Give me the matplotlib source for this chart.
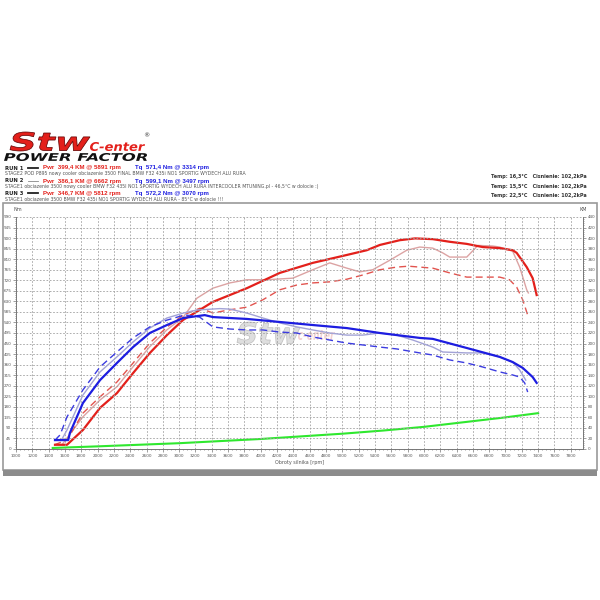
import matplotlib
matplotlib.use("Agg")
import matplotlib.pyplot as plt
import numpy as np
from matplotlib.textpath import TextPath
from matplotlib.patches import PathPatch
from matplotlib.font_manager import FontProperties
from matplotlib.transforms import Affine2D

# Run 1 (thick) - moc [KM] i moment [Nm]
r1_pwr_rpm = [1478, 1625, 1820, 2030, 2237, 2435, 2640, 2850, 3050, 3254, 3413, 3830, 4234, 4638, 5055,
              5300, 5460, 5704, 5891, 6108, 6316, 6525, 6720, 6929, 7088, 7137, 7260, 7333, 7382]
r1_pwr = [8, 8, 36, 78, 106, 144, 182, 216, 245, 264, 279, 305, 334, 353, 368,
          377, 387, 396, 399.4, 398, 393, 389, 383, 381, 377, 372, 345, 324, 292]
r1_tq_rpm = [1478, 1640, 1660, 1820, 2030, 2237, 2435, 2640, 2850, 3050, 3314, 3413, 3830, 4234, 4638,
             5055, 5460, 5949, 6108, 6525, 6929, 7088, 7211, 7333, 7382]
r1_tq = [38, 38, 68, 196, 294, 367, 435, 495, 529, 559, 571.4, 563, 555, 542, 529,
         516, 495, 474, 470, 431, 393, 371, 346, 307, 282]

# Run 2 (thin)
r2_pwr_rpm = [1563, 1820, 2030, 2237, 2435, 2640, 2850, 3050, 3217, 3413, 3621, 3830, 4075, 4393, 4638,
              4846, 5055, 5214, 5373, 5582, 5790, 5949, 6108, 6230, 6316, 6525, 6662, 6843, 6929,
              7088, 7174, 7260, 7280]
r2_pwr = [8, 61, 93, 118, 156, 194, 226, 250, 286, 305, 315, 321, 321, 324, 340,
          353, 343, 336, 340, 358, 377, 383, 381, 372, 364, 364, 386.1, 385, 383,
          375, 345, 302, 296]
r2_tq_rpm = [1560, 1625, 1820, 2030, 2237, 2435, 2640, 2850, 3050, 3217, 3497, 3621, 3830, 4026, 4234,
             4442, 4638, 4846, 5055, 5250, 5460, 5667, 5863, 6108, 6230, 6525, 6720, 6929, 7088,
             7174, 7248]
r2_tq = [40, 81, 230, 329, 393, 457, 516, 559, 580, 593, 599.1, 597, 580, 559, 538,
         521, 508, 495, 486, 486, 495, 486, 465, 435, 414, 410, 410, 393, 371,
         337, 294]

# Run 3 (dashed)
r3_pwr_rpm = [1470, 1625, 1820, 2030, 2237, 2435, 2640, 2850, 3050, 3254, 3413, 3621, 3830, 4026, 4234,
              4442, 4638, 4846, 5055, 5250, 5460, 5667, 5812, 6108, 6316, 6525, 6720, 6929, 7050,
              7137, 7211, 7272]
r3_pwr = [8, 17, 68, 99, 127, 163, 201, 231, 254, 267, 258, 264, 269, 283, 302,
          311, 315, 317, 322, 330, 340, 345, 346.7, 343, 334, 326, 326, 326, 321,
          307, 283, 254]
r3_tq_rpm = [1478, 1540, 1625, 1820, 2030, 2237, 2435, 2640, 2850, 3070, 3250, 3413, 3621, 3830, 4026,
             4234, 4442, 4638, 4846, 5055, 5250, 5460, 5667, 5949, 6108, 6316, 6525, 6720, 6929,
             7088, 7174, 7235, 7272]
r3_tq = [38, 60, 137, 252, 350, 414, 474, 521, 550, 572.2, 563, 521, 512, 508, 508,
         499, 495, 478, 465, 452, 444, 435, 427, 410, 401, 380, 367, 350, 329,
         316, 307, 282, 243]

# zielona linia
green_rpm = [1450, 2000, 2500, 3000, 3500, 4000, 4500, 5000, 5500, 6000, 6500, 7000, 7400]
green_val = [2, 5, 8, 11, 15, 19, 24, 29, 35, 42, 51, 60, 68]

runs = [
    ("RUN 1", "Pwr  399,4 KM @ 5891 rpm", "Tq  571,4 Nm @ 3314 rpm",
     "STAGE2 POD P895 nowy cooler obciazenie 3500 FINAL BMW F32 435i NO1 SPORTIG WYDECH ALU RURA",
     "Temp: 16,3°C   Cisnienie: 102,2kPa"),
    ("RUN 2", "Pwr  386,1 KM @ 6662 rpm", "Tq  599,1 Nm @ 3497 rpm",
     "STAGE1 obciazenie 3500 nowy cooler BMW F32 435I NO1 SPORTIG WYDECH ALU RURA INTERCOOLER MTUNING.pl - 46,5°C w dolocie :)",
     "Temp: 15,5°C   Cisnienie: 102,2kPa"),
    ("RUN 3", "Pwr  346,7 KM @ 5812 rpm", "Tq  572,2 Nm @ 3070 rpm",
     "STAGE1 obciazenie 3500 BMW F32 435i NO1 SPORTIG WYDECH ALU RURA - 85°C w dolocie !!!",
     "Temp: 22,5°C   Cisnienie: 102,2kPa"),
]

W, H = 600, 600
fig = plt.figure(figsize=(6, 6), dpi=100)
fig.patch.set_facecolor("white")

def fx(px):
    return px / W

def fy(py):
    return 1 - py / H

def box_text(s, x0, x1, ytop, ybot, color, edge="none", alpha=1.0, weight="heavy", style="italic"):
    # tekst rozciagniety do prostokata w pikselach
    fp = FontProperties(family="DejaVu Sans", weight=weight, style=style)
    path = TextPath((0, 0), s, prop=fp, size=10)
    bb = path.get_extents()
    tr = (Affine2D().translate(-bb.x0, -bb.y0)
          .scale((x1 - x0) / bb.width / W, (ybot - ytop) / bb.height / H)
          .translate(x0 / W, 1 - ybot / H) + fig.transFigure)
    fig.add_artist(PathPatch(path, transform=tr, facecolor=color, edgecolor=edge, lw=0.5, alpha=alpha))

# ramka wykresu
frame = plt.Rectangle((fx(3), fy(470)), fx(594), (470 - 203) / H, transform=fig.transFigure,
                      fill=False, edgecolor="#9a9a9a", lw=1.2)
fig.add_artist(frame)
bar = plt.Rectangle((fx(3), fy(476)), fx(594), 6 / H, transform=fig.transFigure,
                    facecolor="#8c8c8c", edgecolor="none")
fig.add_artist(bar)

# logo
box_text("Stw", 10, 90, 132, 151, "#e3201b", edge="#5a0000")
box_text("C-enter", 90, 145, 142, 151, "#e3201b", weight="bold")
fig.text(fx(143), fy(137), "®", color="#333333", fontsize=4.5, va="baseline")
box_text("POWER FACTOR", 4, 147, 153, 161, "#111111")

# naglowki runow
styles = [dict(lw=1.3, ls="-", color="#222222"), dict(lw=0.6, ls="-", color="#888888"),
          dict(lw=1.3, ls="-", color="#222222")]
y_run = [169.5, 182.5, 195]
y_temp = [178, 188, 197.5]
arial = ["Liberation Sans", "DejaVu Sans"]
for i, (name, pwr, tq, desc, temp) in enumerate(runs):
    yb = y_run[i]
    fig.text(fx(5), fy(yb), name, fontsize=3.8, fontweight="bold", color="#222222", va="baseline")
    fig.add_artist(plt.Line2D([fx(28), fx(38)], [fy(yb - 2), fy(yb - 2)], transform=fig.transFigure,
                              **styles[i]))
    fig.text(fx(43), fy(yb), pwr, fontsize=4.4, fontweight="bold", color="#e3201b", va="baseline",
             family=arial)
    fig.text(fx(135), fy(yb), tq, fontsize=4.4, fontweight="bold", color="#1d1de0", va="baseline",
             family=arial)
    fig.text(fx(5), fy(yb + 5.5), desc, fontsize=3.3, color="#555555", va="baseline")
    fig.text(fx(587), fy(y_temp[i]), temp, fontsize=3.5, fontweight="bold", color="#333333",
             va="baseline", ha="right")

# os glowna
ax = fig.add_axes([fx(16), fy(449), fx(583 - 16), (449 - 217) / H])
ax2 = ax.twinx()
ax.set_zorder(ax2.get_zorder() + 1)
ax.patch.set_visible(False)

ax.set_xlim(1000, 7950)
ax.set_ylim(0, 990)
ax2.set_ylim(0, 440)

ax.set_xticks(np.arange(1000, 7801, 200))
ax.set_xticks(np.arange(1000, 7901, 50), minor=True)
ax.set_yticks(np.arange(0, 991, 45))
ax.set_yticks(np.arange(0, 991, 9), minor=True)
ax2.set_yticks(np.arange(0, 441, 20))
ax2.set_yticks(np.arange(0, 441, 4), minor=True)

ax.grid(True, which="major", color="#a0a0a0", ls=(0, (2, 2)), lw=0.6)
for a in (ax, ax2):
    a.tick_params(which="both", labelsize=3, colors="#555555", length=2, width=0.4, pad=1.5)
    a.tick_params(which="minor", length=1)
    for s in a.spines.values():
        s.set_color("#777777")
        s.set_linewidth(0.6)
ax.spines["top"].set_visible(False)
ax2.spines["top"].set_visible(False)

ax.set_xlabel("Obroty silnika [rpm]", fontsize=3.5, color="#555555", labelpad=1.5)
fig.text(fx(18), fy(211), "Nm", fontsize=3.5, color="#555555", ha="center")
fig.text(fx(583), fy(211), "KM", fontsize=3.5, color="#555555", ha="center")

# watermark
box_text("Stw", 237, 300, 322, 344, "#c8c8c8", edge="#a0a0a0", alpha=0.6)
box_text("c-enter", 298, 335, 330, 340, "#e09090", alpha=0.4, weight="bold")

red1, red2, red3 = "#e3201b", "#dca3a3", "#e2544f"
blue1, blue2, blue3 = "#1d1de0", "#a3a3d6", "#3c3ce0"

ax2.plot(green_rpm, green_val, color="#2ee82e", lw=1.5)
ax2.plot(r2_pwr_rpm, r2_pwr, color=red2, lw=1.0)
ax2.plot(r3_pwr_rpm, r3_pwr, color=red3, lw=1.0, ls=(0, (5, 3)))
ax2.plot(r1_pwr_rpm, r1_pwr, color=red1, lw=1.6)
ax.plot(r2_tq_rpm, r2_tq, color=blue2, lw=1.0)
ax.plot(r3_tq_rpm, r3_tq, color=blue3, lw=1.0, ls=(0, (5, 3)))
ax.plot(r1_tq_rpm, r1_tq, color=blue1, lw=1.6)

fig.savefig("out.png", dpi=100, facecolor="white")
